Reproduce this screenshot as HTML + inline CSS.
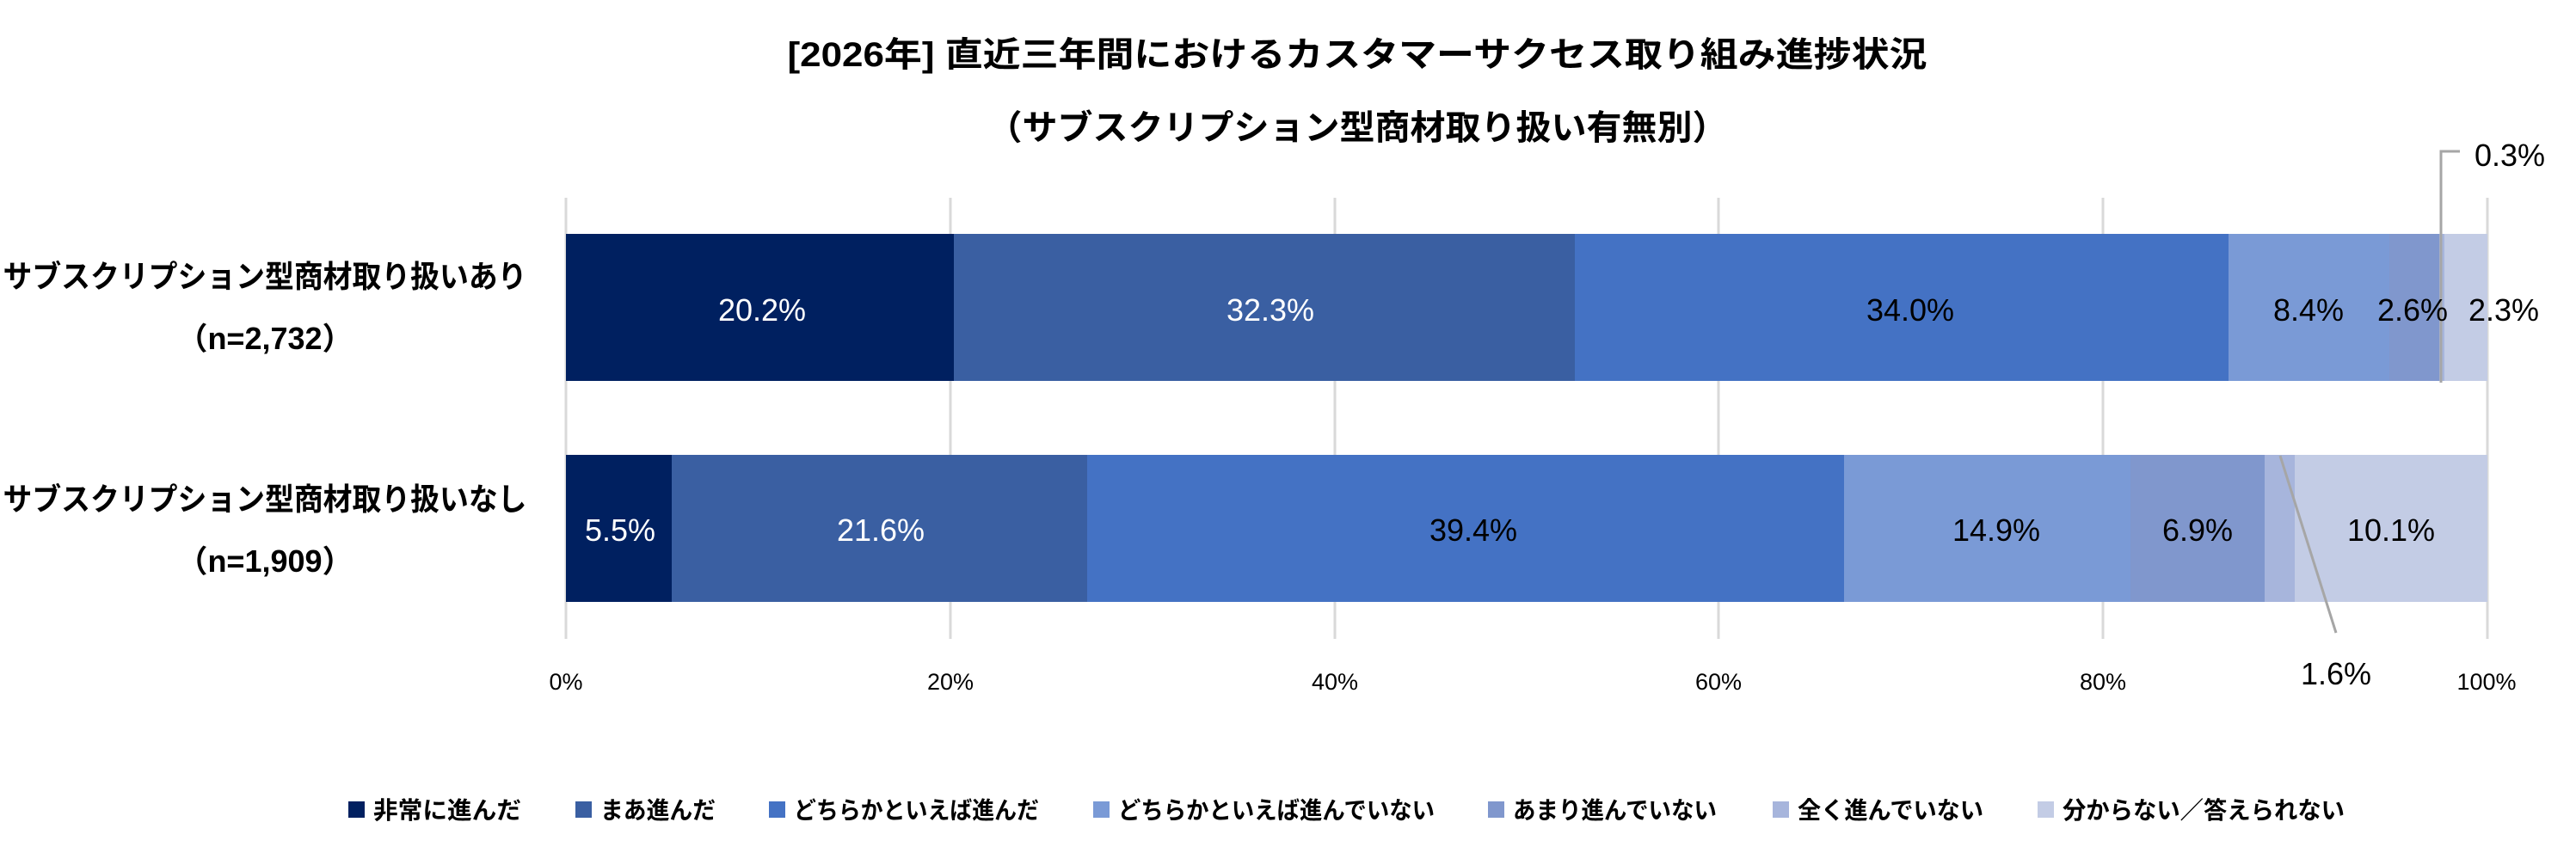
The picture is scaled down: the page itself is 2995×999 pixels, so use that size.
<!DOCTYPE html>
<html><head><meta charset="utf-8"><style>
html,body{margin:0;padding:0;background:#fff;}
svg{display:block;}
text{font-family:"Liberation Sans","Noto Sans CJK JP",sans-serif;}
</style></head><body>
<svg width="2995" height="999" viewBox="0 0 2995 999" xmlns="http://www.w3.org/2000/svg">
<g font-weight="bold" fill="#000">
<text x="1578" y="77" font-size="40" text-anchor="middle" textLength="1325" lengthAdjust="spacingAndGlyphs">[2026年] 直近三年間におけるカスタマーサクセス取り組み進捗状況</text>
<text x="1578" y="162" font-size="40" text-anchor="middle" textLength="861" lengthAdjust="spacingAndGlyphs">（サブスクリプション型商材取り扱い有無別）</text>
</g>
<g stroke="#d9d9d9" stroke-width="3">
<line x1="658" y1="230" x2="658" y2="743"/>
<line x1="1105" y1="230" x2="1105" y2="743"/>
<line x1="1552" y1="230" x2="1552" y2="743"/>
<line x1="1998" y1="230" x2="1998" y2="743"/>
<line x1="2445" y1="230" x2="2445" y2="743"/>
<line x1="2892" y1="230" x2="2892" y2="743"/>
</g>
<g>
<rect x="658" y="272" width="451" height="171" fill="#002060"/>
<rect x="1109" y="272" width="722" height="171" fill="#3A5FA2"/>
<rect x="1831" y="272" width="760" height="171" fill="#4472C4"/>
<rect x="2591" y="272" width="187" height="171" fill="#7A9AD6"/>
<rect x="2778" y="272" width="58" height="171" fill="#8097CD"/>
<rect x="2836" y="272" width="6" height="171" fill="#A7B5DC"/>
<rect x="2842" y="272" width="50" height="171" fill="#C3CCE5"/>
</g>
<g>
<rect x="658" y="529" width="123" height="171" fill="#002060"/>
<rect x="781" y="529" width="483" height="171" fill="#3A5FA2"/>
<rect x="1264" y="529" width="880" height="171" fill="#4472C4"/>
<rect x="2144" y="529" width="333" height="171" fill="#7A9AD6"/>
<rect x="2477" y="529" width="156" height="171" fill="#8097CD"/>
<rect x="2633" y="529" width="35" height="171" fill="#A7B5DC"/>
<rect x="2668" y="529" width="224" height="171" fill="#C3CCE5"/>
</g>
<g stroke="#a6a6a6" stroke-width="3" fill="none">
<polyline points="2838,445 2838,176 2860,176"/>
<line x1="2651" y1="530" x2="2716" y2="736"/>
</g>
<g font-size="36" text-anchor="middle">
<g fill="#fff">
<text x="886" y="373">20.2%</text>
<text x="1477" y="373">32.3%</text>
<text x="721" y="629">5.5%</text>
<text x="1024" y="629">21.6%</text>
</g>
<g fill="#000">
<text x="2221" y="373">34.0%</text>
<text x="2684" y="373">8.4%</text>
<text x="2805" y="373">2.6%</text>
<text x="2911" y="373">2.3%</text>
<text x="1713" y="629">39.4%</text>
<text x="2321" y="629">14.9%</text>
<text x="2555" y="629">6.9%</text>
<text x="2780" y="629">10.1%</text>
<text x="2918" y="193">0.3%</text>
<text x="2716" y="796">1.6%</text>
</g>
</g>
<g font-size="36" font-weight="bold" text-anchor="middle" fill="#000">
<text x="308" y="334" textLength="609" lengthAdjust="spacingAndGlyphs">サブスクリプション型商材取り扱いあり</text>
<text x="308" y="406">（n=2,732）</text>
<text x="308" y="593" textLength="609" lengthAdjust="spacingAndGlyphs">サブスクリプション型商材取り扱いなし</text>
<text x="308" y="665">（n=1,909）</text>
</g>
<g font-size="27" text-anchor="middle" fill="#000">
<text x="658" y="802">0%</text>
<text x="1105" y="802">20%</text>
<text x="1552" y="802">40%</text>
<text x="1998" y="802">60%</text>
<text x="2445" y="802">80%</text>
<text x="2891" y="802">100%</text>
</g>
<g font-size="28" font-weight="bold" fill="#000">
<rect x="405" y="932" width="19" height="19" fill="#002060"/>
<text x="434" y="952" textLength="172" lengthAdjust="spacingAndGlyphs">非常に進んだ</text>
<rect x="669" y="932" width="19" height="19" fill="#3A5FA2"/>
<text x="698" y="952" textLength="134" lengthAdjust="spacingAndGlyphs">まあ進んだ</text>
<rect x="894" y="932" width="19" height="19" fill="#4472C4"/>
<text x="923" y="952" textLength="285" lengthAdjust="spacingAndGlyphs">どちらかといえば進んだ</text>
<rect x="1271" y="932" width="19" height="19" fill="#7A9AD6"/>
<text x="1300" y="952" textLength="368" lengthAdjust="spacingAndGlyphs">どちらかといえば進んでいない</text>
<rect x="1730" y="932" width="19" height="19" fill="#8097CD"/>
<text x="1759" y="952" textLength="237" lengthAdjust="spacingAndGlyphs">あまり進んでいない</text>
<rect x="2061" y="932" width="19" height="19" fill="#A7B5DC"/>
<text x="2090" y="952" textLength="216" lengthAdjust="spacingAndGlyphs">全く進んでいない</text>
<rect x="2369" y="932" width="19" height="19" fill="#C3CCE5"/>
<text x="2398" y="952" textLength="328" lengthAdjust="spacingAndGlyphs">分からない／答えられない</text>
</g>
</svg>
</body></html>
